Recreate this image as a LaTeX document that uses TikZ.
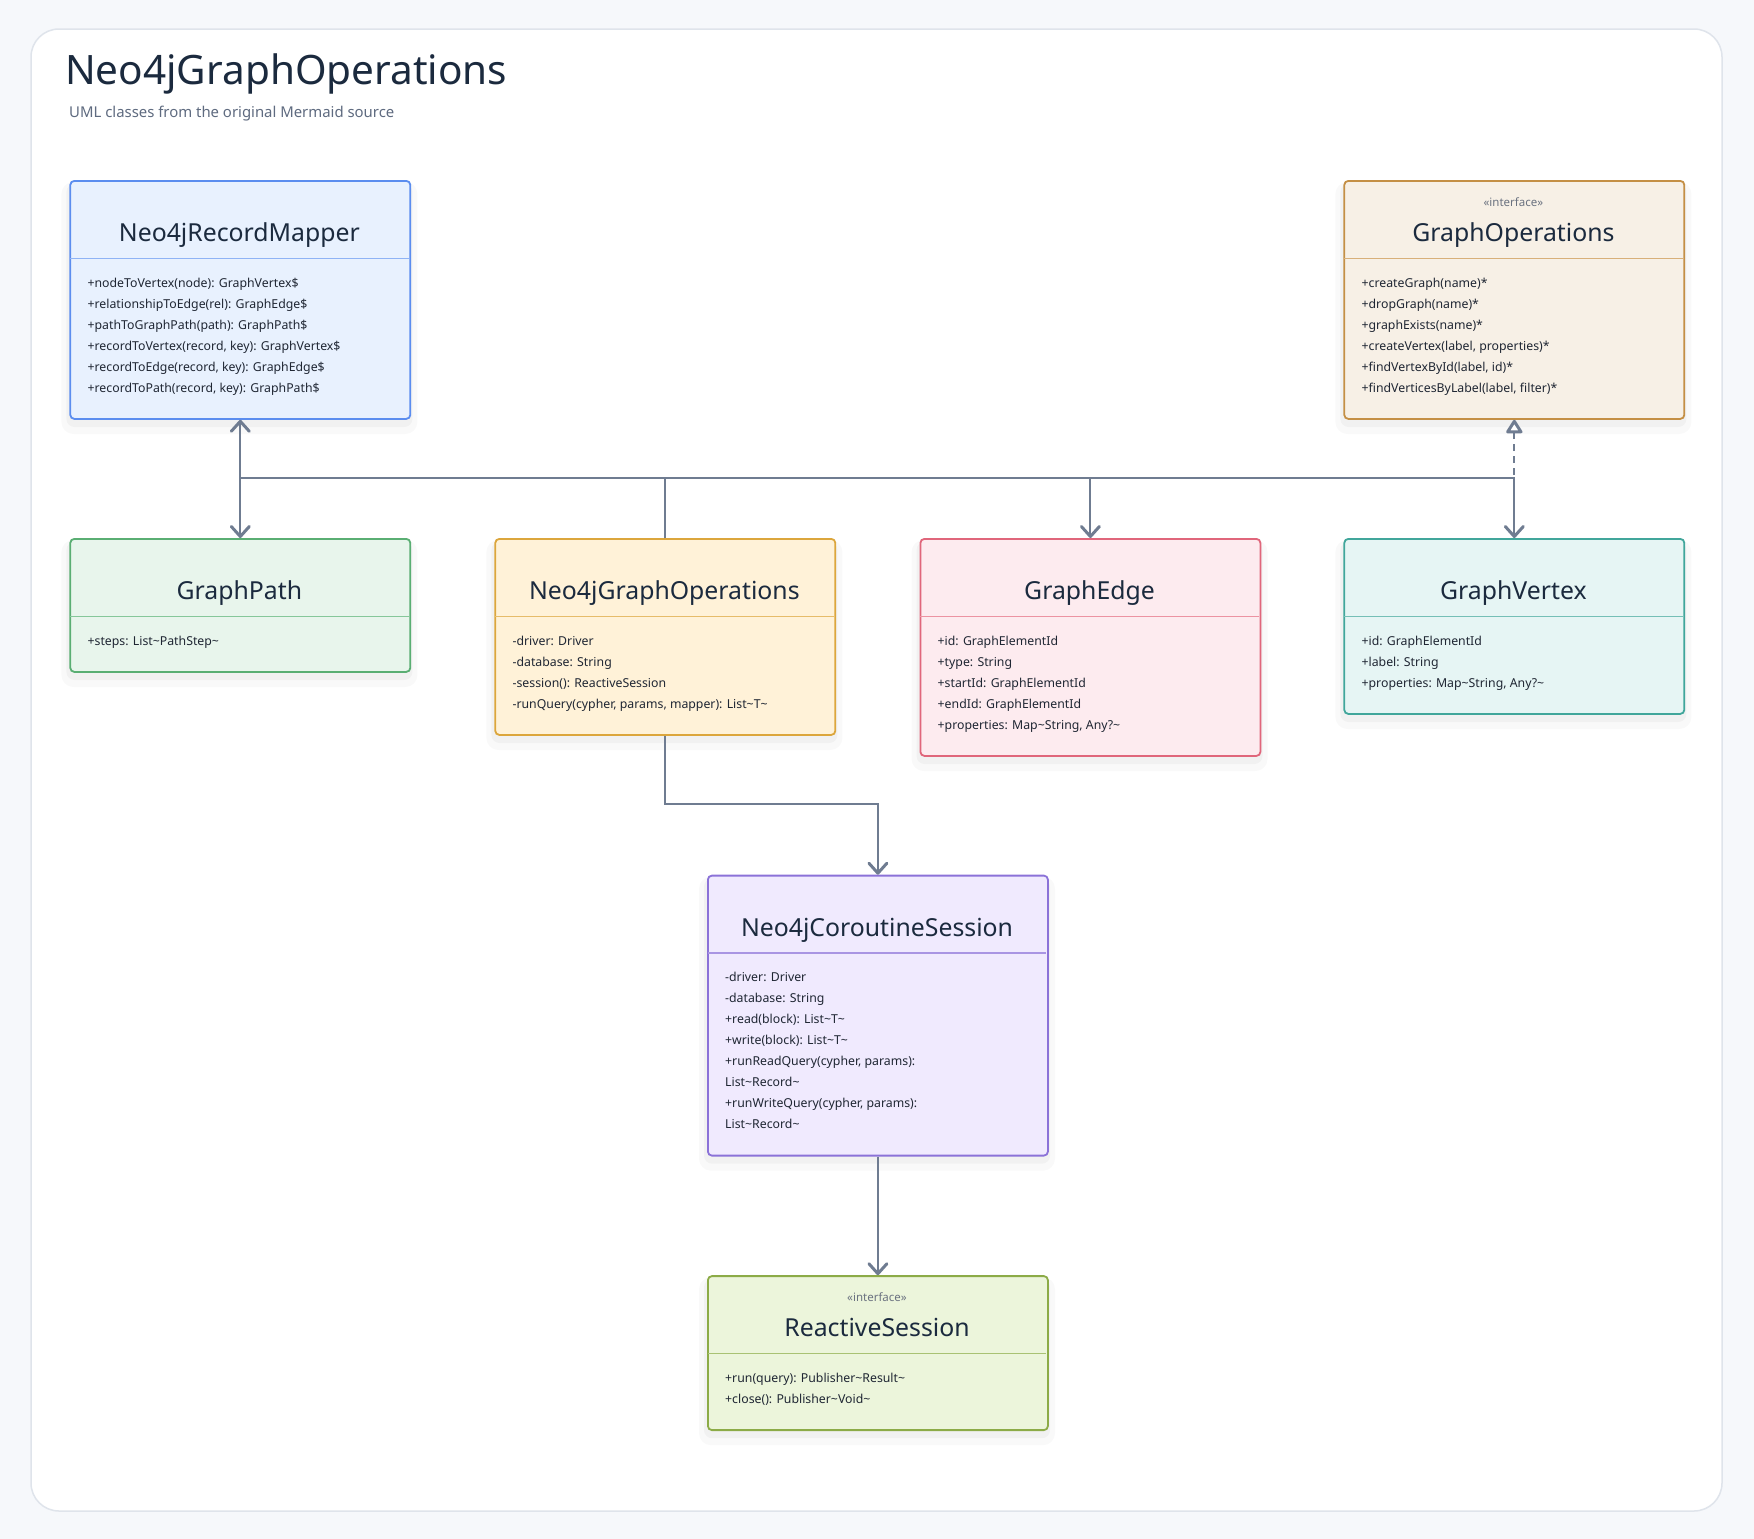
\documentclass[tikz,border=0pt]{standalone}
\usepackage{fontspec}
\setmainfont{Noto Sans}
\usetikzlibrary{arrows.meta}
\definecolor{pagebg}{HTML}{F6F8FB}
\definecolor{cardline}{HTML}{DFE4EB}
\definecolor{titlecol}{HTML}{1B2A3E}
\definecolor{subcol}{HTML}{5F6B80}
\definecolor{textcol}{HTML}{1F2633}
\definecolor{stereocol}{HTML}{6B7280}
\definecolor{edgecol}{HTML}{6F7C91}
\definecolor{mapperline}{HTML}{5B8DEF}\definecolor{mapperfill}{HTML}{E8F1FE}\definecolor{mapperdiv}{HTML}{8FB3F5}
\definecolor{gopsline}{HTML}{C48F45}\definecolor{gopsfill}{HTML}{F7F0E6}\definecolor{gopsdiv}{HTML}{D8B07A}
\definecolor{pathline}{HTML}{5AAE73}\definecolor{pathfill}{HTML}{E8F5EC}\definecolor{pathdiv}{HTML}{86C79A}
\definecolor{ngoline}{HTML}{DCA63C}\definecolor{ngofill}{HTML}{FFF2D8}\definecolor{ngodiv}{HTML}{E6BC6A}
\definecolor{gedgeline}{HTML}{E0667B}\definecolor{gedgefill}{HTML}{FDEBEF}\definecolor{gedgediv}{HTML}{EC93A2}
\definecolor{vertexline}{HTML}{41A69B}\definecolor{vertexfill}{HTML}{E6F5F4}\definecolor{vertexdiv}{HTML}{75BFB6}
\definecolor{sessionline}{HTML}{8B72D8}\definecolor{sessionfill}{HTML}{F0EAFE}\definecolor{sessiondiv}{HTML}{A995E3}
\definecolor{reactiveline}{HTML}{8CAB47}\definecolor{reactivefill}{HTML}{ECF5DB}\definecolor{reactivediv}{HTML}{A9C273}
\newcommand\tld{\textasciitilde{}}
\tikzset{
  classbox/.style={rectangle, rounded corners=4pt, line width=1.8pt, minimum width=340pt, anchor=north west, inner sep=0pt},
  ctitle/.style={anchor=base, font=\fontsize{24.8}{28}\selectfont, text=titlecol, inner sep=0pt},
  attr/.style={anchor=base west, font=\fontsize{12.3}{14}\selectfont, text=textcol, inner sep=0pt},
  stereo/.style={anchor=base, font=\fontsize{11.5}{13}\selectfont, text=stereocol, inner sep=0pt},
  arr/.style={draw=edgecol, line width=2.1pt, -{Straight Barb[length=10pt,width=18pt,line width=3pt,round]}},
  realize/.style={draw=edgecol, line width=2.1pt, dash pattern=on 7pt off 5pt, -{Triangle[open,length=15pt,width=18pt,fill=white,line width=3pt,round]}},
}
% #1 name, #2 x, #3 y, #4 number of lines, #5 title, #6 lines
\newcommand\umlbox[6]{%
  \pgfmathsetmacro\boxh{133+21*(#4-1)}%
  \fill[black,opacity=0.025,rounded corners=12pt] (#2-8,#3+2) rectangle (#2+348,#3+\boxh+16);
  \fill[black,opacity=0.03,rounded corners=8pt] (#2-3,#3+4) rectangle (#2+343,#3+\boxh+9);
  \node[classbox, draw=#1line, fill=#1fill, minimum height=\boxh pt] (#1) at (#2,#3) {};
  \draw[draw=#1div, line width=1.5pt] (#2+0.9,#3+78.3) -- (#2+339.1,#3+78.3);
  \node[ctitle] (#1-title) at (#2+170,#3+61.5) {#5};
  \foreach \t [count=\i from 0] in {#6} {\node[attr] (#1-a\i) at (#2+18,#3+107+21*\i) {\t};}
}
\begin{document}
\begin{tikzpicture}[x=1pt,y=-1pt]
\useasboundingbox (0,0) rectangle (1754,1539);
\fill[pagebg] (0,0) rectangle (1754,1539);
\draw[cardline, fill=white, line width=1.5pt, rounded corners=28pt] (31,29) rectangle (1722,1511);
\node[anchor=base west, font=\fontsize{40.5}{46}\selectfont, text=titlecol, inner sep=0pt] (title) at (65,84) {Neo4jGraphOperations};
\node[anchor=base west, font=\fontsize{14.9}{18}\selectfont, text=subcol, inner sep=0pt] (subtitle) at (69,117) {UML classes from the original Mermaid source};

\umlbox{mapper}{69.4}{180}{6}{Neo4jRecordMapper}{{+nodeToVertex(node): GraphVertex\$},{+relationshipToEdge(rel): GraphEdge\$},{+pathToGraphPath(path): GraphPath\$},{+recordToVertex(record, key): GraphVertex\$},{+recordToEdge(record, key): GraphEdge\$},{+recordToPath(record, key): GraphPath\$}}
\umlbox{gops}{1343.4}{180}{6}{GraphOperations}{{+createGraph(name)*},{+dropGraph(name)*},{+graphExists(name)*},{+createVertex(label, properties)*},{+findVertexById(label, id)*},{+findVerticesByLabel(label, filter)*}}
\node[stereo] (gops-st) at (1513.4,206.5) {«interface»};
\umlbox{path}{69.4}{538}{1}{GraphPath}{{+steps: List\tld PathStep\tld}}
\umlbox{ngo}{494.4}{538}{4}{Neo4jGraphOperations}{{-driver: Driver},{-database: String},{-session(): ReactiveSession},{-runQuery(cypher, params, mapper): List\tld T\tld}}
\umlbox{gedge}{919.5}{538}{5}{GraphEdge}{{+id: GraphElementId},{+type: String},{+startId: GraphElementId},{+endId: GraphElementId},{+properties: Map\tld String, Any?\tld}}
\umlbox{vertex}{1343.4}{538}{3}{GraphVertex}{{+id: GraphElementId},{+label: String},{+properties: Map\tld String, Any?\tld}}
\umlbox{session}{707}{874.7}{8}{Neo4jCoroutineSession}{{-driver: Driver},{-database: String},{+read(block): List\tld T\tld},{+write(block): List\tld T\tld},{+runReadQuery(cypher, params):},{List\tld Record\tld},{+runWriteQuery(cypher, params):},{List\tld Record\tld}}
\umlbox{reactive}{707}{1275.2}{2}{ReactiveSession}{{+run(query): Publisher\tld Result\tld},{+close(): Publisher\tld Void\tld}}
\node[stereo] (reactive-st) at (877,1301.5) {«interface»};

\coordinate (bus) at (0,477.6);
\coordinate (turn) at (0,804);
\draw[arr] (ngo.north) -- (ngo.north |- bus) -| (mapper.south);
\draw[arr] (ngo.north) -- (ngo.north |- bus) -| (path.north);
\draw[arr] (ngo.north) -- (ngo.north |- bus) -| (gedge.north);
\draw[arr] (ngo.north) -- (ngo.north |- bus) -| (vertex.north);
\draw[realize] (ngo.north) -- (ngo.north |- bus) -| (gops.south);
\draw[arr] (ngo.south) -- (ngo.south |- turn) -| (session.north);
\draw[arr] (session.south) -- (reactive.north);
\end{tikzpicture}
\end{document}
